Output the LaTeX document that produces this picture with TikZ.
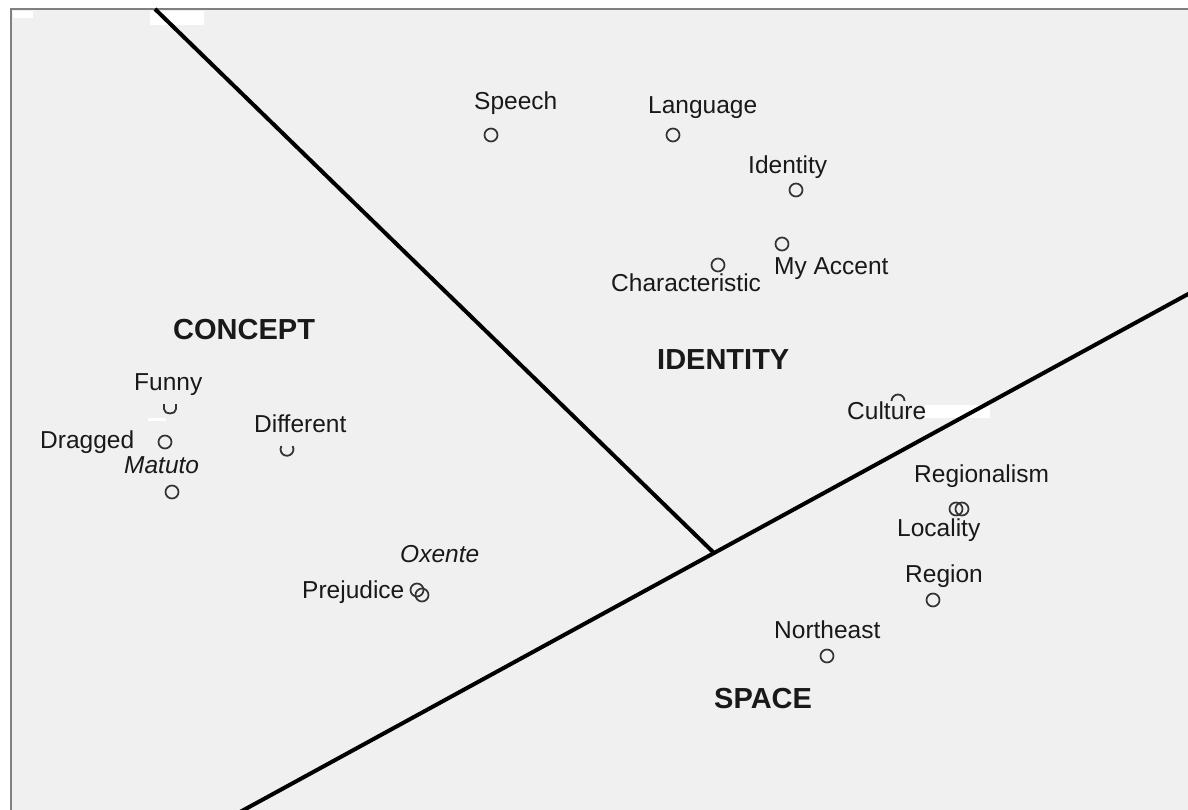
\documentclass[tikz,border=0pt]{standalone}
\usepackage{fontspec}
\setmainfont{Liberation Sans}
\begin{document}
\begin{tikzpicture}[x=1pt,y=-1pt,
  lbl/.style={inner sep=0pt,anchor=base west,text=black!90,font=\fontsize{24.5}{28}\selectfont},
  ilbl/.style={lbl,font=\fontsize{24.5}{28}\selectfont\itshape},
  zone/.style={inner sep=0pt,anchor=base west,text=black!90,font=\fontsize{29}{33}\selectfont\bfseries},
  dot/.style={circle,draw=black!80,line width=1.7pt,minimum size=13pt,inner sep=0pt},
  part/.style={draw=black!80,line width=1.8pt},
  axis/.style={line width=4pt,black},
  patch/.style={fill=white,draw=none}]
\useasboundingbox (0,0) rectangle (1188,810);
% page and panel
\fill[white] (0,0) rectangle (1188,810);
\fill[black!6] (11,9) rectangle (1188,810);
% light patches on the panel
\fill[patch] (13,11) rectangle (33,18);
\fill[patch] (150,11) rectangle (204,25);
\fill[patch] (925,405) rectangle (990,418);
\fill[patch] (148,418) rectangle (166,421);
% panel frame
\draw[black!50,line width=2.5pt] (11,810) -- (11,9) -- (1188,9);

% dividing lines
\coordinate (top) at (155,9);
\coordinate (hub) at (713,552);
\coordinate (sw) at (240,812);
\coordinate (ne) at (1190,293);
\draw[axis] (top) -- (hub);
\draw[axis] (sw) -- (ne);

% zone titles
\node[zone] (concept) at (173,339) {CONCEPT};
\node[zone] (identityzone) at (657,369) {IDENTITY};
\node[zone] (space) at (714,708) {SPACE};

% identity words
\node[lbl] (speech) at (474,110) {Speech};
\node[dot] (m-speech) at (491,135) {};
\node[lbl] (language) at (648,114) {Language};
\node[dot] (m-language) at (673,135) {};
\node[lbl] (identity) at (748,174) {Identity};
\node[dot] (m-identity) at (796,190) {};
\node[dot] (m-accent) at (782,244) {};
\node[lbl] (accent) at (774,275) {My Accent};
\node[dot] (m-char) at (718,265) {};
\node[lbl] (char) at (611,291) {Characteristic};
\node[lbl] (culture) at (847,419) {Culture};
\draw[part] (891.5,401) arc (180:360:6.5);

% concept words
\node[lbl] (funny) at (134,390) {Funny};
\draw[part] (164,404) -- (164,409) .. controls (164,415) and (176,415) .. (176,409) -- (176,404);
\node[lbl] (dragged) at (40,448) {Dragged};
\node[dot] (m-dragged) at (165,442) {};
\node[ilbl] (matuto) at (124,473) {Matuto};
\node[dot] (m-matuto) at (172,492) {};
\node[lbl] (different) at (254,432) {Different};
\draw[part] (292.6,446) arc (-30:210:6.5);
\node[ilbl] (oxente) at (400,562) {Oxente};
\node[lbl] (prejudice) at (302,598) {Prejudice};
\node[dot] (m-prejudice) at (417,590) {};
\node[dot] (m-oxente) at (422,595) {};

% space words
\node[lbl] (regionalism) at (914,482) {Regionalism};
\node[dot] (m-locality) at (956,509) {};
\node[dot] (m-regionalism) at (962,509) {};
\node[lbl] (locality) at (897,536) {Locality};
\node[lbl] (region) at (905,582) {Region};
\node[dot] (m-region) at (933,600) {};
\node[lbl] (northeast) at (774,638) {Northeast};
\node[dot] (m-northeast) at (827,656) {};
\end{tikzpicture}
\end{document}
